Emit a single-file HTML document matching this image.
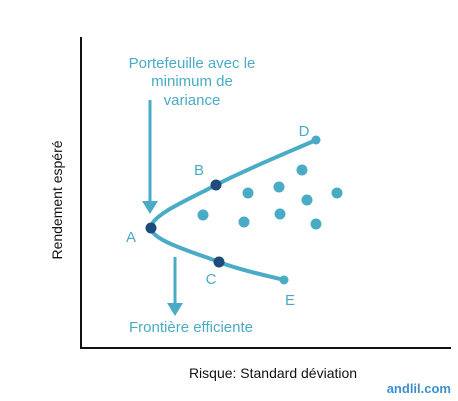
<!DOCTYPE html>
<html><head><meta charset="utf-8"><style>
body{margin:0;background:#fff;}
svg{display:block;font-family:"Liberation Sans",sans-serif;}
</style></head><body>
<svg width="458" height="401">
<g id="g"></g>
</svg>
<script>
// values: risk (x) and return (y) in chart units
const scatterRisk=[123,168,199,222,257,227,200,164,236];
const scatterReturn=[133,155,161,178,155,148,134,126,124];
const frontierRisk=[236,136,71,139,204];
const frontierReturn=[208,163,120,86,68];
const keyLabels=['A','B','C'];
const keyRisk=[71,136,139];
const keyReturn=[120,163,86];
const endLabels=['D','E'];
const endRisk=[236,204];
const endReturn=[208,68];
const x0=80,y0=348;
const sx=v=>x0+v, sy=v=>y0-v;
const g=document.getElementById('g');
const NS='http://www.w3.org/2000/svg';
function mk(t,a){const e=document.createElementNS(NS,t);for(const k in a)e.setAttribute(k,a[k]);g.appendChild(e);return e;}
let e;
e=mk('line',{x1:81,y1:37,x2:81,y2:349,stroke:'#111','stroke-width':2});


e=mk('line',{x1:80,y1:348,x2:451,y2:348,stroke:'#111','stroke-width':2});


const c='#4aabc6';
const pts=frontierRisk.map((v,i)=>[sx(v),sy(frontierReturn[i])]);
let d='M'+pts[0][0]+' '+pts[0][1];
for(let i=0;i<pts.length-1;i++){const p0=pts[Math.max(0,i-1)],p1=pts[i],p2=pts[i+1],p3=pts[Math.min(pts.length-1,i+2)];
d+=` C${p1[0]+(p2[0]-p0[0])/6} ${p1[1]+(p2[1]-p0[1])/6} ${p2[0]-(p3[0]-p1[0])/6} ${p2[1]-(p3[1]-p1[1])/6} ${p2[0]} ${p2[1]}`;}
e=mk('path',{d:d,fill:'none',stroke:c,'stroke-width':4,'stroke-linecap':'round'});


scatterRisk.forEach((v,i)=>{e=mk('circle',{cx:sx(v),cy:sy(scatterReturn[i]),r:5.5,fill:c});

});
endRisk.forEach((v,i)=>{e=mk('circle',{cx:sx(v),cy:sy(endReturn[i]),r:4.5,fill:c});

});
keyRisk.forEach((v,i)=>{e=mk('circle',{cx:sx(v),cy:sy(keyReturn[i]),r:5.5,fill:'#1f4a7c'});

});
const labs=[['A',131,242],['B',199,175],['C',211,284],['D',304,136],['E',290,305]];
labs.forEach(l=>{e=mk('text',{x:l[1],y:l[2],'text-anchor':'middle','font-size':15,fill:c});e.textContent=l[0];

});
function arrow(x,y1,y2,name){e=mk('line',{x1:x,y1:y1,x2:x,y2:y2-12,stroke:c,'stroke-width':3});


e=mk('polygon',{points:`${x-8},${y2-13} ${x+8},${y2-13} ${x},${y2}`,fill:c});

}
arrow(150,100,214,'min-variance-arrow');
arrow(175,257,316,'frontier-arrow');
[['Portefeuille avec le',68],['minimum de',86],['variance',105]].forEach(t=>{e=mk('text',{x:192,y:t[1],'text-anchor':'middle','font-size':15,fill:c});e.textContent=t[0];

});
e=mk('text',{x:191,y:332,'text-anchor':'middle','font-size':15,fill:c});e.textContent='Frontière efficiente';


e=mk('text',{x:273,y:378,'text-anchor':'middle','font-size':14,fill:'#111'});e.textContent='Risque: Standard déviation';


e=mk('text',{x:62,y:200,'text-anchor':'middle','font-size':14,fill:'#111',transform:'rotate(-90 62 200)'});e.textContent='Rendement espéré';


e=mk('text',{x:451,y:393,'text-anchor':'end','font-size':13,'font-weight':'bold',fill:'#3d8fd0'});e.textContent='andlil.com';


</script>
</body></html>
